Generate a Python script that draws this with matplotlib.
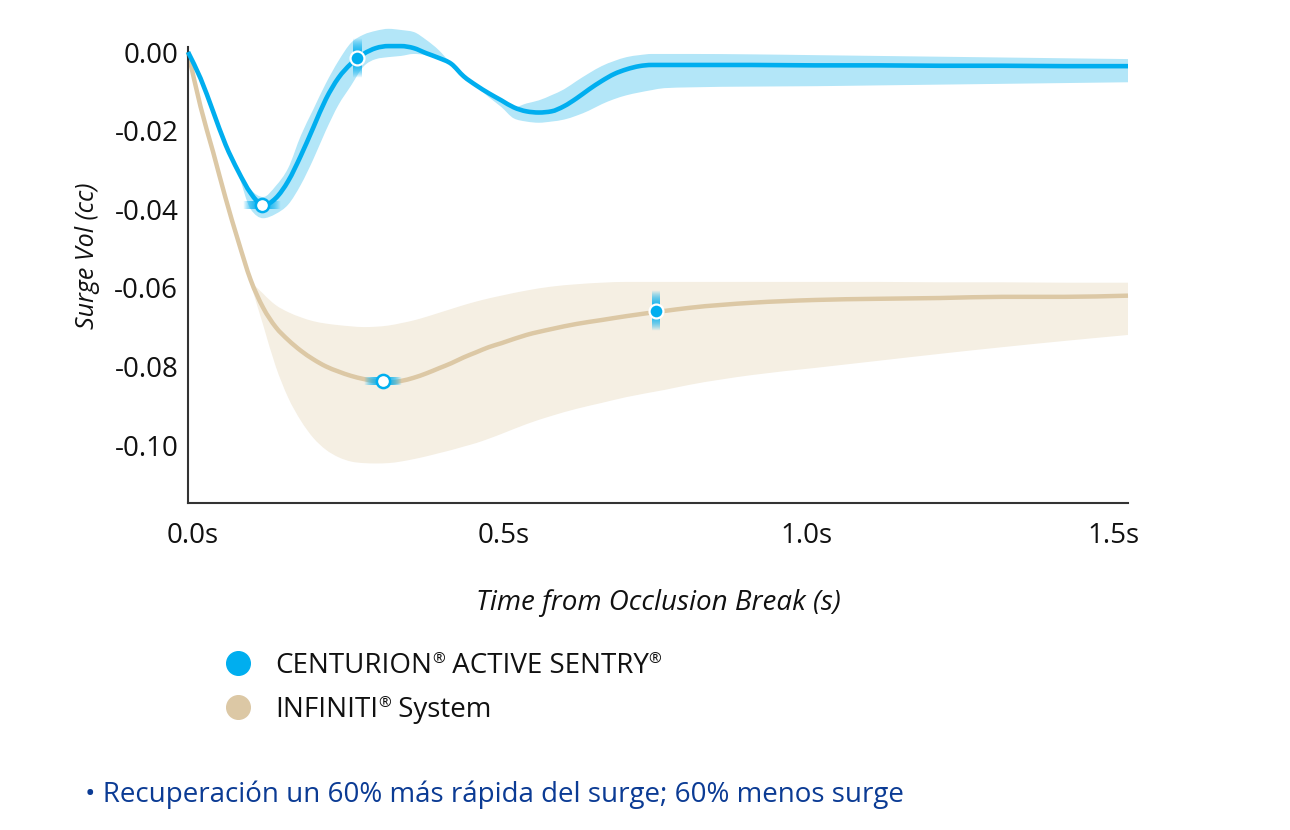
import numpy as np
import matplotlib
matplotlib.use("Agg")
import matplotlib.pyplot as plt
import matplotlib.transforms as mtransforms
from matplotlib.lines import Line2D
from matplotlib.path import Path
from matplotlib.patches import PathPatch

plt.rcParams['font.family'] = ['Open Sans', 'DejaVu Sans']

# CENTURION (blue) - time (s), mean and band edges (cc)
t_blue = [0.0, 0.02, 0.04, 0.06, 0.08, 0.10, 0.12, 0.14, 0.16, 0.18, 0.20, 0.22,
          0.24, 0.26, 0.28, 0.30, 0.32, 0.34, 0.36, 0.38, 0.40, 0.42, 0.44, 0.46,
          0.48, 0.50, 0.52, 0.54, 0.56, 0.58, 0.60, 0.62, 0.64, 0.66, 0.68, 0.70,
          0.72, 0.74, 0.76, 0.80, 0.90, 1.00, 1.10, 1.20, 1.30, 1.40, 1.50]
blue_mean = [0.0, -0.0067, -0.0151, -0.0236, -0.0303, -0.0359, -0.0390, -0.0372,
             -0.0328, -0.0264, -0.0192, -0.0120, -0.0066, -0.0030, -0.0005, 0.0010,
             0.0015, 0.0015, 0.0010, -0.0003, -0.0015, -0.0030, -0.0062, -0.0085,
             -0.0105, -0.0123, -0.0141, -0.0151, -0.0154, -0.0151, -0.0138, -0.0118,
             -0.0095, -0.0074, -0.0056, -0.0044, -0.0036, -0.0033, -0.0033, -0.0033,
             -0.0033, -0.0034, -0.0034, -0.0035, -0.0035, -0.0036, -0.0036]
blue_upper = [0.0, -0.0067, -0.0151, -0.0236, -0.0300, -0.0350, -0.0369, -0.0341,
              -0.0295, -0.0213, -0.0146, -0.0080, -0.0023, 0.0023, 0.0044, 0.0054,
              0.0059, 0.0056, 0.0051, 0.0031, 0.0005, -0.0030, -0.0062, -0.0085,
              -0.0105, -0.0123, -0.0141, -0.0131, -0.0123, -0.0110, -0.0095, -0.0074,
              -0.0054, -0.0036, -0.0023, -0.0013, -0.0008, -0.0005, -0.0005, -0.0005,
              -0.0006, -0.0008, -0.0010, -0.0012, -0.0014, -0.0016, -0.0018]
blue_lower = [0.0, -0.0067, -0.0151, -0.0236, -0.0310, -0.0400, -0.0423, -0.0412,
              -0.0388, -0.0338, -0.0273, -0.0200, -0.0135, -0.0086, -0.0037, -0.0018,
              -0.0013, -0.0010, -0.0005, -0.0008, -0.0018, -0.0030, -0.0062, -0.0088,
              -0.0115, -0.0140, -0.0169, -0.0177, -0.0180, -0.0177, -0.0172, -0.0162,
              -0.0149, -0.0133, -0.0120, -0.0110, -0.0103, -0.0097, -0.0092, -0.0090,
              -0.0088, -0.0087, -0.0085, -0.0083, -0.0081, -0.0079, -0.0077]

# INFINITI (tan)
t_tan = [0.0, 0.02, 0.04, 0.06, 0.08, 0.10, 0.12, 0.14, 0.16, 0.18, 0.20, 0.22,
         0.24, 0.26, 0.28, 0.30, 0.32, 0.34, 0.36, 0.38, 0.40, 0.42, 0.44, 0.46,
         0.48, 0.50, 0.54, 0.58, 0.62, 0.66, 0.70, 0.76, 0.80, 0.90, 1.00, 1.10,
         1.20, 1.30, 1.40, 1.50]
tan_mean = [0.0, -0.0139, -0.0254, -0.0372, -0.0480, -0.0580, -0.0651, -0.0700,
            -0.0733, -0.0760, -0.0782, -0.0800, -0.0813, -0.0824, -0.0832, -0.0838,
            -0.0841, -0.0837, -0.0829, -0.0818, -0.0805, -0.0792, -0.0777, -0.0764,
            -0.0751, -0.0741, -0.0720, -0.0705, -0.0692, -0.0682, -0.0672, -0.0659,
            -0.0651, -0.0638, -0.0631, -0.0628, -0.0626, -0.0623, -0.0623, -0.0620]
tan_upper = [0.0, -0.0139, -0.0254, -0.0372, -0.0480, -0.0577, -0.0615, -0.0644,
             -0.0662, -0.0675, -0.0685, -0.0691, -0.0695, -0.0698, -0.0700, -0.0699,
             -0.0696, -0.0690, -0.0683, -0.0674, -0.0664, -0.0654, -0.0644, -0.0635,
             -0.0627, -0.0620, -0.0607, -0.0597, -0.0591, -0.0587, -0.0585, -0.0585,
             -0.0585, -0.0585, -0.0585, -0.0585, -0.0586, -0.0586, -0.0587, -0.0587]
tan_lower = [0.0, -0.0139, -0.0254, -0.0372, -0.0480, -0.0590, -0.0695, -0.0800,
             -0.0880, -0.0938, -0.0982, -0.1012, -0.1031, -0.1042, -0.1046, -0.1047,
             -0.1046, -0.1042, -0.1036, -0.1029, -0.1021, -0.1013, -0.1004, -0.0995,
             -0.0984, -0.0972, -0.0947, -0.0926, -0.0908, -0.0893, -0.0878, -0.0860,
             -0.0847, -0.0822, -0.0804, -0.0786, -0.0768, -0.0751, -0.0735, -0.0720]

# highlighted points: (t, value, hollow?, highlight direction)
pts_t = [0.118, 0.270, 0.311, 0.747]
pts_v = [-0.0390, -0.0015, -0.0838, -0.0660]
pts_hollow = [True, False, True, False]
pts_dir = ['h', 'v', 'h', 'v']

xticks = [0.0, 0.5, 1.0, 1.5]
xtick_labels = ['0.0s', '0.5s', '1.0s', '1.5s']
yticks = [0.0, -0.02, -0.04, -0.06, -0.08, -0.10]
ytick_labels = ['0.00', '-0.02', '-0.04', '-0.06', '-0.08', '-0.10']

BLUE = '#00aeef'
BLUE_BAND = '#b3e6f8'
TAN = '#dcc8a5'
TAN_BAND = '#f5efe3'
NOTE = '#0b3b94'
FS = 20


def smooth_verts(xs, ys):
    # monotone cubic through the points, written as bezier segments
    x = np.asarray(xs, float)
    y = np.asarray(ys, float)
    h = np.diff(x)
    s = np.diff(y) / h
    n = len(x)
    m = np.zeros(n)
    for k in range(1, n - 1):
        if s[k - 1] * s[k] > 0:
            p = (s[k - 1] * h[k] + s[k] * h[k - 1]) / (h[k - 1] + h[k])
            m[k] = np.sign(s[k]) * min(abs(s[k - 1]), abs(s[k]), 0.5 * abs(p)) * 2
    m[0] = s[0]
    m[-1] = s[-1]
    verts = [(x[0], y[0])]
    codes = [Path.MOVETO]
    for k in range(n - 1):
        d = h[k] / 3
        verts += [(x[k] + d, y[k] + d * m[k]), (x[k + 1] - d, y[k + 1] - d * m[k + 1]),
                  (x[k + 1], y[k + 1])]
        codes += [Path.CURVE4] * 3
    return verts, codes


def smooth_line(ax, xs, ys, **kw):
    v, c = smooth_verts(xs, ys)
    ax.add_patch(PathPatch(Path(v, c), fill=False, capstyle='butt', clip_on=False, **kw))


def smooth_band(ax, xs, lo, hi, **kw):
    v1, c1 = smooth_verts(xs, hi)
    v2, c2 = smooth_verts(xs[::-1], lo[::-1])
    c2[0] = Path.LINETO
    ax.add_patch(PathPatch(Path(v1 + v2, c1 + c2), lw=0, clip_on=False, **kw))


W, H = 1290, 830
fig = plt.figure(figsize=(W / 100, H / 100), dpi=100)
ax = fig.add_axes([188 / W, 1 - 503 / H, (1128 - 188) / W, (503 - 47) / H])

smooth_band(ax, t_tan, tan_lower, tan_upper, facecolor=TAN_BAND, zorder=1)
smooth_line(ax, t_tan, tan_mean, edgecolor=TAN, lw=3.2, zorder=2)
smooth_band(ax, t_blue, blue_lower, blue_upper, facecolor=BLUE_BAND, zorder=3)
smooth_line(ax, t_blue, blue_mean, edgecolor=BLUE, lw=3.3, zorder=4)

ax.set_xlim(0, 1.5)
ax.set_ylim(-(503 - 52) / 3930, (52 - 47) / 3930)

# soft highlight strip behind each point
px_t = 1.5 / (1128 - 188)
px_v = 0.1 / 393.0
sl = np.linspace(-1, 1, 60)
alpha = np.clip(1 - np.abs(sl) ** 2.2, 0, 1) * 0.9
rgb = matplotlib.colors.to_rgb(BLUE)
for t, v, d in zip(pts_t, pts_v, pts_dir):
    if d == 'v':
        img = np.zeros((60, 1, 4))
        img[:, 0, :3] = rgb
        img[:, 0, 3] = alpha
        ext = [t - 4 * px_t, t + 4 * px_t, v - 20 * px_v, v + 20 * px_v]
    else:
        img = np.zeros((1, 60, 4))
        img[0, :, :3] = rgb
        img[0, :, 3] = alpha
        ext = [t - 19 * px_t, t + 19 * px_t, v - 4 * px_v, v + 4 * px_v]
    ax.imshow(img, extent=ext, aspect='auto', origin='lower', zorder=5,
              interpolation='bilinear', clip_on=False)

for t, v, hollow in zip(pts_t, pts_v, pts_hollow):
    if hollow:
        ax.plot(t, v, 'o', ms=9.5, mfc='white', mec=BLUE, mew=1.8, zorder=6, clip_on=False)
    else:
        ax.plot(t, v, 'o', ms=10, mfc=BLUE, mec='white', mew=1.6, zorder=6, clip_on=False)

ax.set_xlim(0, 1.5)
ax.set_ylim(-(503 - 52) / 3930, (52 - 47) / 3930)
ax.set_xticks(xticks)
ax.set_xticklabels(xtick_labels)
ax.set_yticks(yticks)
ax.set_yticklabels(ytick_labels)
ax.tick_params(length=0, labelsize=FS, colors='#111111')
ax.tick_params(axis='x', pad=14)
ax.tick_params(axis='y', pad=7)
# the original labels sit a little inside the tick positions
for lab, dx in zip(ax.get_xticklabels(), [5, 2, -8, -14]):
    lab.set_transform(lab.get_transform() +
                      mtransforms.ScaledTranslation(dx / 100, 0, fig.dpi_scale_trans))
for side in ['top', 'right']:
    ax.spines[side].set_visible(False)
for side in ['left', 'bottom']:
    ax.spines[side].set_color('#333333')
    ax.spines[side].set_linewidth(1.5)

fig.text(88 / W, 1 - 256 / H, 'Surge Vol (cc)', rotation=90, style='italic',
         fontsize=18, ha='center', va='center', color='#111111')
fig.text(658 / W, 1 - 603 / H, 'Time from Occlusion Break (s)', style='italic',
         fontsize=FS, ha='center', va='center', color='#111111')

# legend drawn by hand so the ® can sit raised and small
renderer = fig.canvas.get_renderer()


def rich_text(x_px, base_px, parts):
    x = x_px
    for txt, sup in parts:
        if sup:
            t = fig.text(x / W, 1 - (base_px - 10) / H, txt, fontsize=11,
                         va='baseline', color='#111111')
        else:
            t = fig.text(x / W, 1 - base_px / H, txt, fontsize=FS,
                         va='baseline', color='#111111')
        x += t.get_window_extent(renderer).width


legend_items = [
    (BLUE, 663, [('CENTURION', False), ('®', True), (' ACTIVE SENTRY', False), ('®', True)]),
    (TAN, 707, [('INFINITI', False), ('®', True), (' System', False)]),
]
for col, yc, parts in legend_items:
    fig.add_artist(Line2D([238 / W], [1 - yc / H], marker='o', ms=17, color=col,
                          mec=col, transform=fig.transFigure))
    rich_text(275, yc + 10, parts)

fig.text(85 / W, 1 - 795 / H,
         '• Recuperación un 60% más rápida del surge; 60% menos surge',
         fontsize=FS, color=NOTE, va='center', ha='left')

fig.savefig('out.png', dpi=100)
